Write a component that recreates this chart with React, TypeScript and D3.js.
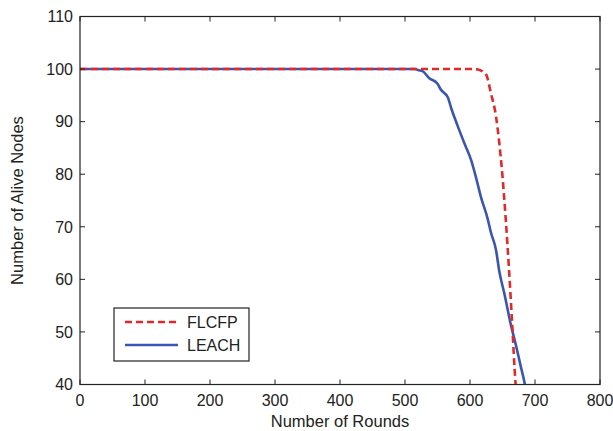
import React from "react";
import * as d3 from "d3";

const xTicks = [0, 100, 200, 300, 400, 500, 600, 700, 800];
const yTicks = [40, 50, 60, 70, 80, 90, 100, 110];

const flcfpRounds = [0, 607, 615, 625, 632, 640, 645, 649, 655, 660, 664.5, 670, 671];
const flcfpAlive = [100, 100, 99.8, 98.9, 95.5, 91, 86, 81, 71.4, 61.9, 52.4, 40.4, 39];

const leachRounds = [0, 515, 520, 527, 537, 550, 555, 566, 571, 581, 591, 602, 609, 617, 627, 632, 640, 645, 653, 663, 671, 678, 684, 686];
const leachAlive = [100, 100, 99.8, 99.6, 98.3, 97.2, 96.1, 94.6, 92.6, 89.2, 86, 82.6, 79.5, 75.6, 71.6, 69, 65.6, 61.6, 57.2, 51.3, 47.3, 43.5, 40.3, 39];

const seriesNames = ["FLCFP", "LEACH"];

const W = 613, H = 431;
const L = 80, R = 600, T = 16.5, B = 384.5;
const FONT = "'Liberation Sans', Arial, Helvetica, sans-serif";

export default function App() {
  const x = d3.scaleLinear().domain([0, 800]).range([L, R]);
  const y = d3.scaleLinear().domain([40, 110]).range([B, T]);
  const line = d3.line<[number, number]>().x(d => x(d[0])).y(d => y(d[1])).curve(d3.curveMonotoneX);
  const flcfp = flcfpRounds.map((r, i) => [r, flcfpAlive[i]] as [number, number]);
  const leach = leachRounds.map((r, i) => [r, leachAlive[i]] as [number, number]);
  const tk = 5;
  return (
    <svg width={W} height={H} style={{ position: "absolute", left: 0, top: 0, background: "#fff" }}>
      <defs>
        <clipPath id="plot">
          <rect x={L} y={T} width={R - L} height={B - T} />
        </clipPath>
      </defs>
      <rect x={0} y={0} width={W} height={H} fill="#fff" />
      <g clipPath="url(#plot)">
        <path d={line(leach) || ""} fill="none" stroke="#3a56b0" strokeWidth={2.6} strokeLinejoin="round" />
        <path d={line(flcfp) || ""} fill="none" stroke="#e02a2a" strokeWidth={2.6} strokeDasharray="7,4" />
      </g>
      <rect x={L} y={T} width={R - L} height={B - T} fill="none" stroke="#222" strokeWidth={1.2} />
      {xTicks.map(t => (
        <g key={"x" + t}>
          <line x1={x(t)} x2={x(t)} y1={B} y2={B - tk} stroke="#222" />
          <line x1={x(t)} x2={x(t)} y1={T} y2={T + tk} stroke="#222" />
          <text x={x(t)} y={405.5} textAnchor="middle" fontFamily={FONT} fontSize={16} fill="#222">{t}</text>
        </g>
      ))}
      {yTicks.map(t => (
        <g key={"y" + t}>
          <line x1={L} x2={L + tk} y1={y(t)} y2={y(t)} stroke="#222" />
          <line x1={R} x2={R - tk} y1={y(t)} y2={y(t)} stroke="#222" />
          <text x={73} y={y(t)} dy="0.36em" textAnchor="end" fontFamily={FONT} fontSize={16} fill="#222">{t}</text>
        </g>
      ))}
      <text x={340} y={427} textAnchor="middle" fontFamily={FONT} fontSize={16.5} fill="#222">Number of Rounds</text>
      <text transform={`translate(23,${(T + B) / 2}) rotate(-90)`} textAnchor="middle" fontFamily={FONT} fontSize={16.5} fill="#222">Number of Alive Nodes</text>
      <g>
        <rect x={114} y={308} width={135} height={53} fill="#fff" stroke="#222" strokeWidth={1.2} />
        <line x1={125} x2={178} y1={322} y2={322} stroke="#e02a2a" strokeWidth={2.6} strokeDasharray="7,4" />
        <line x1={125} x2={178} y1={345} y2={345} stroke="#3a56b0" strokeWidth={2.6} />
        <text x={187} y={322} dy="0.36em" fontFamily={FONT} fontSize={16} fill="#222">{seriesNames[0]}</text>
        <text x={187} y={345} dy="0.36em" fontFamily={FONT} fontSize={16} fill="#222">{seriesNames[1]}</text>
      </g>
    </svg>
  );
}
